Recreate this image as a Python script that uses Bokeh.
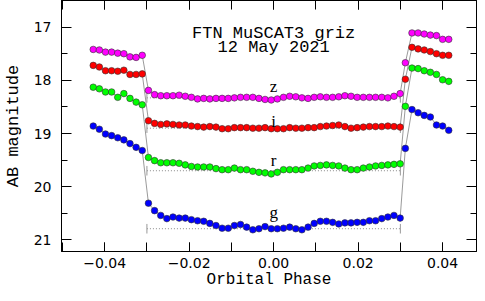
from bokeh.plotting import figure
from bokeh.models import (Range1d, LinearAxis, SingleIntervalTicker,
                          CustomJSTickFormatter, ColumnDataSource)
from bokeh.embed import file_html
from bokeh.resources import INLINE
from bokeh.core.properties import value

# ---------------- data ----------------
phase_pre = [-0.04271, -0.04126, -0.03981, -0.03836, -0.03691, -0.03546,
             -0.03401, -0.03256, -0.03111]
phase_in = [-0.02964, -0.02819, -0.02673, -0.02528, -0.02383, -0.02237,
            -0.02092, -0.01947, -0.01801, -0.01656, -0.01511, -0.01365,
            -0.01220, -0.01075, -0.00929, -0.00784, -0.00639, -0.00493,
            -0.00348, -0.00203, -0.00057, 0.00088, 0.00233, 0.00379,
            0.00524, 0.00669, 0.00815, 0.00960, 0.01105, 0.01251,
            0.01396, 0.01541, 0.01687, 0.01832, 0.01977, 0.02123,
            0.02268, 0.02413, 0.02559, 0.02704, 0.02849, 0.02995]
phase_post = [0.03118, 0.03275, 0.03420, 0.03565, 0.03710, 0.03855,
              0.04000, 0.04145]

bands = ["z", "i", "r", "g"]
colors = ["#ff00ff", "#ff0000", "#00ff00", "#0000ff"]

z_mag = [17.42, 17.43, 17.47, 17.47, 17.49, 17.50, 17.56, 17.57, 17.53,
         18.19, 18.27, 18.29, 18.29, 18.29, 18.28, 18.30, 18.32, 18.35, 18.34,
         18.35, 18.34, 18.34, 18.34, 18.33, 18.32,
         18.32, 18.32, 18.34, 18.36, 18.37, 18.35, 18.32, 18.30, 18.31, 18.33,
         18.34, 18.32, 18.31, 18.32, 18.32, 18.31, 18.29, 18.30, 18.32, 18.32,
         18.32, 18.32, 18.32, 18.33, 18.30, 18.25,
         17.67, 17.11, 17.11, 17.13, 17.15, 17.16, 17.23, 17.23]
i_mag = [17.72, 17.75, 17.82, 17.82, 17.83, 17.81, 17.89, 17.89, 17.88,
         18.76, 18.81, 18.83, 18.82, 18.83, 18.84, 18.84, 18.86, 18.87, 18.88,
         18.87, 18.88, 18.91, 18.91, 18.89, 18.89,
         18.89, 18.90, 18.90, 18.89, 18.91, 18.91, 18.91, 18.89, 18.90, 18.90,
         18.89, 18.89, 18.87, 18.86, 18.85, 18.84, 18.87, 18.90, 18.89, 18.88,
         18.87, 18.87, 18.87, 18.86, 18.87, 18.88,
         17.98, 17.38, 17.41, 17.43, 17.46, 17.50, 17.53, 17.53]
r_mag = [18.13, 18.16, 18.22, 18.22, 18.32, 18.25, 18.34, 18.41, 18.46,
         19.45, 19.51, 19.55, 19.55, 19.55, 19.56, 19.59, 19.62, 19.63, 19.63,
         19.63, 19.66, 19.68, 19.68, 19.65, 19.68,
         19.68, 19.71, 19.73, 19.74, 19.76, 19.73, 19.68, 19.68, 19.68, 19.68,
         19.65, 19.61, 19.60, 19.59, 19.60, 19.61, 19.65, 19.68, 19.68, 19.65,
         19.63, 19.61, 19.60, 19.59, 19.58, 19.57,
         18.49, 17.77, 17.78, 17.82, 17.85, 17.89, 17.99, 18.02]
g_mag = [18.86, 18.92, 19.01, 19.04, 19.08, 19.12, 19.19, 19.26, 19.32,
         20.31, 20.45, 20.54, 20.60, 20.57, 20.59, 20.59, 20.62, 20.64, 20.65,
         20.69, 20.73, 20.78, 20.78, 20.73, 20.71,
         20.76, 20.81, 20.79, 20.75, 20.79, 20.79, 20.78, 20.76, 20.79, 20.81,
         20.76, 20.69, 20.65, 20.65, 20.67, 20.70, 20.68, 20.68, 20.67, 20.67,
         20.64, 20.64, 20.60, 20.57, 20.54, 20.59,
         19.28, 18.55, 18.61, 18.66, 18.69, 18.84, 18.86, 18.94]

# eclipse reference levels (dotted) and eclipse edges
ref_level = [18.33, 18.90, 19.70, 20.79]
eclipse_edges = [-0.030, 0.030]

label_y = [18.12, 18.77, 19.51, 20.49]
title_lines = ["FTN MuSCAT3 griz", "12 May 2021"]

x_label = "Orbital Phase"
y_label = "AB magnitude"

# ---------------- figure ----------------
phase = phase_pre + phase_in + phase_post
mags = [z_mag, i_mag, r_mag, g_mag]

W, H = 477, 293
LEFT, RIGHT, TOP, BOTTOM = 56, 1, 0, 42
PX_PER_MAG = 53.2
PX_PER_PHASE = 4275.0
X0_PX = 270.7           # where phase 0 sits
frame_w = W - LEFT - RIGHT
frame_h = H - TOP - BOTTOM
x_start = -(X0_PX - LEFT) / PX_PER_PHASE
x_end = x_start + frame_w / PX_PER_PHASE
y_top = 16.5
y_bot = y_top + frame_h / PX_PER_MAG

p = figure(width=W, height=H, output_backend="svg", toolbar_location=None,
           x_range=Range1d(x_start, x_end), y_range=Range1d(y_bot, y_top),
           min_border_left=LEFT, min_border_right=RIGHT, min_border_top=TOP,
           min_border_bottom=BOTTOM, background_fill_color="white",
           border_fill_color="white")
p.grid.visible = False
p.outline_line_color = "black"
p.outline_line_width = 1

fmt = CustomJSTickFormatter(code="""
if (Math.abs(tick) < 1e-9) { return "0.00"; }
return (tick < 0 ? "\\u2212" : "") + Math.abs(tick).toFixed(2);
""")


def style_common(ax, labels):
    ax.axis_line_color = "black"
    ax.major_tick_line_color = "black"
    ax.minor_tick_line_color = "black"
    ax.major_tick_out = 0
    ax.minor_tick_out = 0
    if labels:
        ax.major_label_text_font = "DejaVu Sans"
        ax.major_label_text_font_size = "14px"
        ax.major_label_text_color = "black"
    else:
        ax.major_label_text_color = None
        ax.major_label_standoff = 0


def style_x(ax, labels=True):
    ax.ticker = SingleIntervalTicker(interval=0.02, num_minor_ticks=2)
    ax.major_tick_in = 9
    ax.minor_tick_in = 9
    style_common(ax, labels)
    if labels:
        ax.formatter = fmt
        ax.major_label_standoff = 6


def style_y(ax, labels=True):
    ax.ticker = SingleIntervalTicker(interval=1, num_minor_ticks=2)
    ax.major_tick_in = 10
    ax.minor_tick_in = 6
    style_common(ax, labels)
    if labels:
        ax.major_label_standoff = 10


xb = p.xaxis[0]
style_x(xb)
xb.axis_label = x_label
xb.axis_label_text_font = "Liberation Mono"
xb.axis_label_text_font_size = "16px"
xb.axis_label_text_font_style = "normal"
xb.axis_label_text_color = "black"
xb.axis_label_standoff = 0

yl = p.yaxis[0]
style_y(yl)
yl.axis_label = y_label
yl.axis_label_text_font = "Liberation Mono"
yl.axis_label_text_font_size = "17px"
yl.axis_label_text_font_style = "normal"
yl.axis_label_text_color = "black"
yl.axis_label_standoff = 8

xt = LinearAxis()
style_x(xt, labels=False)
p.add_layout(xt, "above")
yr = LinearAxis()
style_y(yr, labels=False)
p.add_layout(yr, "right")

# dotted reference levels with end bars
lev_src = ColumnDataSource(dict(
    x0=[eclipse_edges[0]] * len(ref_level),
    x1=[eclipse_edges[1]] * len(ref_level),
    y=ref_level))
p.segment(x0="x0", x1="x1", y0="y", y1="y", source=lev_src,
          line_color="#888888", line_width=1, line_dash="1 2")
bar_x, bar_y0, bar_y1 = [], [], []
for lv in ref_level:
    for e in eclipse_edges:
        bar_x.append(e)
        bar_y0.append(lv - 0.09)
        bar_y1.append(lv + 0.09)
p.segment(x0=bar_x, x1=bar_x, y0=bar_y0, y1=bar_y1,
          line_color="#999999", line_width=1)

# connecting lines, then points
for m in mags:
    p.line(phase, m, line_color="#808080", line_width=0.8)
for m, c in zip(mags, colors):
    p.scatter(phase, m, size=6.6, marker="circle", fill_color=c,
              line_color="#333333", line_width=0.6)

# band labels
p.text(x=[0.0] * len(bands), y=label_y, text=bands,
       text_font=value("Liberation Serif"), text_font_size="17px",
       text_align="center", text_baseline="alphabetic", text_color="black")

# title
p.text(x=[0.0, 0.0], y=[17.115, 17.385], text=title_lines,
       text_font=value("Liberation Mono"), text_font_size="17px",
       text_align="center", text_baseline="alphabetic", text_color="black")

open("out.html", "w").write(file_html(p, INLINE))
